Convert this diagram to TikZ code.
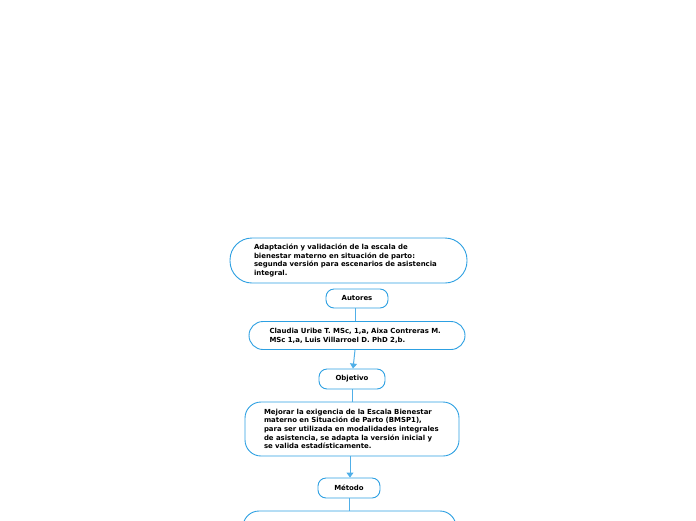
\documentclass[tikz,border=0pt]{standalone}
\usepackage{fontspec}
\setmainfont{DejaVu Sans}
\usetikzlibrary{arrows.meta}
\definecolor{boxblue}{RGB}{45,160,226}
\definecolor{lineblue}{RGB}{80,175,232}
\begin{document}
\begin{tikzpicture}[x=1pt,y=-1pt,
  every node/.style={font=\bfseries\fontsize{6.95}{8.7}\selectfont, text=black},
  bigbox/.style={draw=boxblue, line width=0.9pt, fill=white, align=left, inner sep=0pt},
  smallbox/.style={draw=boxblue, line width=0.9pt, fill=white, rounded corners=8pt, inner sep=0pt},
  conn/.style={draw=lineblue, line width=1pt},
  arr/.style={conn, -{Triangle[width=7pt,length=5pt]}}
]
\useasboundingbox (0,0) rectangle (696,520);
\node[bigbox, rounded corners=22pt, minimum width=237pt, minimum height=45pt, text width=189pt] (title) at (348.5,260.5)
 {Adaptación y validación de la escala de\\bienestar materno en situación de parto:\\segunda versión para escenarios de asistencia\\integral.};
\node[smallbox, minimum width=62pt, minimum height=19pt] (autores) at (357,298.5) {Autores};
\node[bigbox, rounded corners=14pt, minimum width=216pt, minimum height=28pt, text width=175pt] (authors) at (357,335.5)
 {Claudia Uribe T. MSc, 1,a, Aixa Contreras M.\\MSc 1,a, Luis Villarroel D. PhD 2,b.};
\node[smallbox, minimum width=66pt, minimum height=20pt] (objetivo) at (352,379) {Objetivo};
\node[bigbox, rounded corners=16pt, minimum width=214pt, minimum height=54pt, text width=176pt] (obj) at (352,429)
 {Mejorar la exigencia de la Escala Bienestar\\materno en Situación de Parto (BMSP1),\\para ser utilizada en modalidades integrales\\de asistencia, se adapta la versión inicial y\\se valida estadísticamente.};
\node[smallbox, minimum width=62pt, minimum height=20pt] (metodo) at (349,488) {Método};
\node[bigbox, rounded corners=16pt, minimum width=213pt, minimum height=40pt] (met) at (349.5,531) {};
\draw[conn] (autores.south -| 355,0) -- (authors.north -| 355,0);
\draw[arr] (authors.south -| 355,0) -- (objetivo.north -| 353,0);
\draw[conn] (objetivo.south -| 352,0) -- (obj.north -| 352,0);
\draw[arr] (obj.south -| 350,0) -- (metodo.north -| 350,0);
\draw[conn] (metodo.south -| 349,0) -- (met.north -| 349,0);
\end{tikzpicture}
\end{document}
